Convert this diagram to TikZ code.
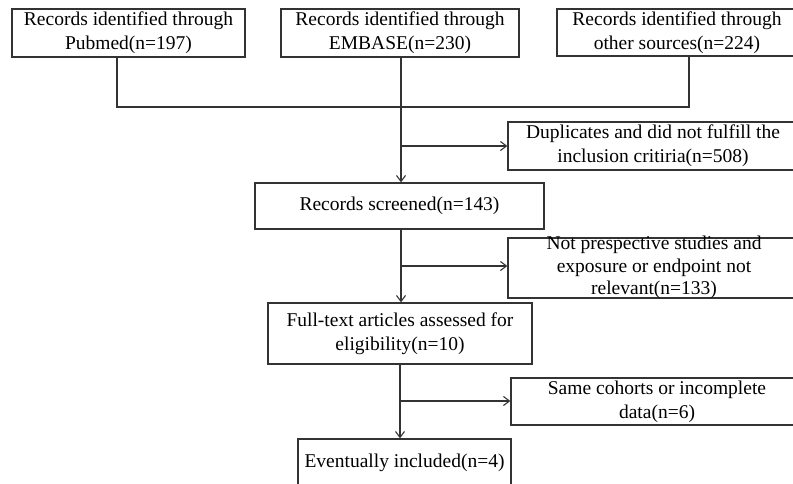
\documentclass[tikz,border=0pt]{standalone}
\usepackage{fontspec}
\setmainfont{Liberation Serif}
\usetikzlibrary{arrows.meta}
\begin{document}
\begin{tikzpicture}[x=1pt,y=-1pt,
  box/.style={draw=black!80,line width=1.3pt,rectangle,inner sep=0pt,align=center,
    font=\fontsize{19.5}{24}\selectfont},
  txt/.style={inner sep=0pt,align=center,font=\fontsize{19.5}{22.5}\selectfont},
  conn/.style={draw=black!80,line width=1.2pt},
  arr/.style={conn,-{Straight Barb[length=6pt,width=9pt,line width=1.1pt]}}]
\useasboundingbox (0,0) rectangle (793,483);
\clip (0,0) rectangle (793,483);
\fill[white] (0,0) rectangle (793,483);

\node[box,minimum width=233pt,minimum height=48pt] (b1) at (128.5,33) {Records identified through\\Pubmed(n=197)};
\node[box,minimum width=238pt,minimum height=48pt] (b2) at (400,33) {Records identified through\\EMBASE(n=230)};
\node[box,minimum width=240pt,minimum height=47pt] (b3) at (677,32.5) {Records identified through\\other sources(n=224)};

\node[box,minimum width=290pt,minimum height=48pt] (dup) at (653,146) {Duplicates and did not fulfill the\\inclusion critiria(n=508)};
\node[box,minimum width=289pt,minimum height=46pt] (rs) at (399.5,206) {Records screened(n=143)};
\node[box,minimum width=292pt,minimum height=60pt] (np) at (654,268) {};
\node[txt] (nptext) at (654,267.5) {Not prespective studies and\\exposure or endpoint not\\relevant(n=133)};
\node[box,minimum width=264pt,minimum height=61pt] (ft) at (400,333.5) {Full-text articles assessed for\\eligibility(n=10)};
\node[box,minimum width=292pt,minimum height=47pt] (sc) at (657,401.5) {Same cohorts or incomplete\\data(n=6)};
\node[box,minimum width=213pt,minimum height=48pt] (ev) at (404.5,463) {Eventually included(n=4)};

\coordinate (t1) at (117,107);
\coordinate (t3) at (689,107);
\draw[conn] (b1.south -| t1) -- (t1) -- (t3) -- (b3.south -| t3);

\draw[arr] (b2.south -| 401,0) -- (rs.north -| 401,0);
\draw[arr] (rs.south -| 401,0) -- (ft.north -| 401,0);
\draw[arr] (ft.south -| 400,0) -- (ev.north -| 400,0);

\coordinate (j1) at (401,146);
\coordinate (j2) at (401,266);
\coordinate (j3) at (400,401);
\draw[arr] (j1) -- (j1 -| dup.west);
\draw[arr] (j2) -- (j2 -| np.west);
\draw[arr] (j3) -- (j3 -| sc.west);
\end{tikzpicture}
\end{document}
